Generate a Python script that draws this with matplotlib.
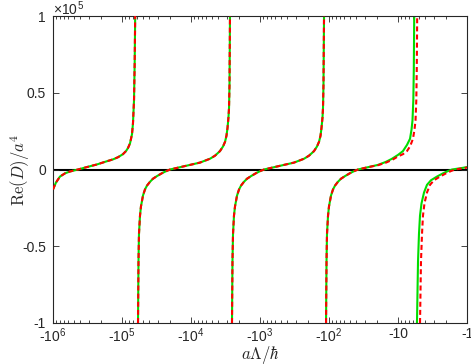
import numpy as np
import matplotlib.pyplot as plt
from matplotlib.ticker import LogLocator, NullFormatter

plt.rcParams['font.family'] = ['Liberation Sans', 'DejaVu Sans']
plt.rcParams['mathtext.fontset'] = 'cm'

# x: log10 of |a Lambda / hbar|  (axis shows the negative values)
# y: Re(D)/a^4 in units of 1e5
seg1_exp = [6.000, 5.957, 5.899, 5.826, 5.754, 5.638, 5.507, 5.362, 5.246, 5.130,
            5.058, 4.986, 4.942, 4.913, 4.884, 4.855, 4.841, 4.826, 4.816, 4.809]
seg1_val = [-0.13, -0.085, -0.046, -0.025, -0.013, 0.0, 0.016, 0.033, 0.05, 0.066,
            0.08, 0.10, 0.12, 0.14, 0.17, 0.23, 0.30, 0.45, 0.70, 1.0]

seg2_exp = [4.768, 4.761, 4.754, 4.739, 4.725, 4.696, 4.667, 4.638, 4.594, 4.551,
            4.493, 4.420, 4.362, 4.304, 4.159, 4.014, 3.870, 3.725, 3.652, 3.580,
            3.536, 3.507, 3.486, 3.471, 3.457, 3.449, 3.442, 3.435]
seg2_val = [-1.0, -0.6, -0.42, -0.30, -0.24, -0.17, -0.13, -0.105, -0.08, -0.06,
            -0.043, -0.024, -0.011, 0.0, 0.015, 0.03, 0.045, 0.07, 0.09, 0.12,
            0.15, 0.18, 0.22, 0.27, 0.34, 0.40, 0.55, 1.0]

seg3_exp = [3.406, 3.399, 3.391, 3.377, 3.362, 3.333, 3.304, 3.275, 3.232, 3.188,
            3.130, 3.058, 3.000, 2.942, 2.797, 2.652, 2.507, 2.362, 2.290, 2.217,
            2.174, 2.145, 2.123, 2.109, 2.094, 2.087, 2.080, 2.072]
seg3_val = [-1.0, -0.6, -0.42, -0.30, -0.24, -0.17, -0.13, -0.105, -0.08, -0.06,
            -0.043, -0.024, -0.011, 0.0, 0.015, 0.03, 0.045, 0.07, 0.09, 0.12,
            0.15, 0.18, 0.22, 0.27, 0.34, 0.40, 0.55, 1.0]

green4_exp = [2.043, 2.036, 2.029, 2.014, 2.000, 1.971, 1.942, 1.913, 1.870, 1.826,
              1.768, 1.696, 1.638, 1.580, 1.435, 1.290, 1.174, 1.087, 1.000, 0.928,
              0.870, 0.826, 0.804, 0.790, 0.778, 0.771, 0.765]
green4_val = [-1.0, -0.6, -0.42, -0.30, -0.24, -0.17, -0.13, -0.105, -0.08, -0.06,
              -0.043, -0.024, -0.011, 0.0, 0.015, 0.03, 0.05, 0.07, 0.095, 0.12,
              0.16, 0.20, 0.26, 0.32, 0.45, 0.65, 1.0]

red4_exp = [2.043, 2.036, 2.029, 2.014, 2.000, 1.971, 1.942, 1.913, 1.870, 1.826,
            1.768, 1.696, 1.638, 1.580, 1.435, 1.290, 1.174, 1.087, 1.000, 0.928,
            0.870, 0.826, 0.783, 0.761, 0.746, 0.735, 0.728, 0.722]
red4_val = [-1.0, -0.6, -0.42, -0.30, -0.24, -0.17, -0.13, -0.105, -0.08, -0.06,
            -0.043, -0.024, -0.011, 0.0, 0.015, 0.028, 0.045, 0.062, 0.085, 0.10,
            0.12, 0.15, 0.20, 0.26, 0.32, 0.45, 0.65, 1.0]

green5_exp = [0.725, 0.710, 0.696, 0.681, 0.659, 0.623, 0.580, 0.522, 0.435, 0.348,
              0.275, 0.217, 0.130, 0.058, 0.000]
green5_val = [-1.0, -0.6, -0.42, -0.30, -0.22, -0.15, -0.10, -0.07, -0.046, -0.025,
              -0.01, 0.0, 0.006, 0.011, 0.016]

red5_exp = [0.681, 0.667, 0.652, 0.638, 0.616, 0.580, 0.536, 0.478, 0.391, 0.304,
            0.232, 0.174, 0.101, 0.043, 0.000]
red5_val = [-1.0, -0.6, -0.42, -0.30, -0.22, -0.15, -0.10, -0.07, -0.046, -0.025,
            -0.01, 0.0, 0.005, 0.009, 0.013]

green_segs = [(seg1_exp, seg1_val), (seg2_exp, seg2_val), (seg3_exp, seg3_val),
              (green4_exp, green4_val), (green5_exp, green5_val)]
red_segs = [(seg1_exp, seg1_val), (seg2_exp, seg2_val), (seg3_exp, seg3_val),
            (red4_exp, red4_val), (red5_exp, red5_val)]

xtick_exp = [6, 5, 4, 3, 2, 1, 0]
xtick_labels = ['-10$^{\\mathregular{6}}$', '-10$^{\\mathregular{5}}$',
                '-10$^{\\mathregular{4}}$', '-10$^{\\mathregular{3}}$',
                '-10$^{\\mathregular{2}}$', '-10', '-1']
ytick_vals = [-1, -0.5, 0, 0.5, 1]
ytick_labels = ['-1', '-0.5', '0', '0.5', '1']

axcol = '#262626'

fig = plt.figure(figsize=(4.71, 3.64), dpi=100)
ax = fig.add_axes([53/471, 1 - 323/364, 414/471, 307/364])

ax.axhline(0, color='k', lw=1.5, zorder=1)
for e, v in green_segs:
    ax.plot(10**np.array(e), v, color='#00dd00', lw=1.5, zorder=2)
for e, v in red_segs:
    ax.plot(10**np.array(e), v, color='#ff0000', lw=1.5, dashes=(2.4, 1.5), zorder=3)

ax.set_xscale('log')
ax.set_xlim(1e6, 1)
ax.set_ylim(-1, 1)
ax.set_xticks([10.0**k for k in xtick_exp])
ax.set_xticklabels(xtick_labels)
ax.xaxis.set_minor_locator(LogLocator(base=10, subs=np.arange(2, 10), numticks=20))
ax.xaxis.set_minor_formatter(NullFormatter())
ax.set_yticks(ytick_vals)
ax.set_yticklabels(ytick_labels)

ax.tick_params(which='both', direction='in', top=True, right=True,
               colors=axcol, labelsize=10)
ax.tick_params(which='major', length=4, width=0.6)
ax.tick_params(which='minor', length=2, width=0.6)
ax.tick_params(axis='x', pad=3)
ax.tick_params(axis='y', pad=5)
for s in ax.spines.values():
    s.set_color(axcol)
    s.set_linewidth(0.8)

ax.text(0, 1 + 1.5/307, '\u00d710$^{\\mathregular{5}}$', transform=ax.transAxes,
        ha='left', va='baseline', fontsize=10, color=axcol)

ax.set_xlabel(r'$a\Lambda/\hbar$', fontsize=12, color=axcol)
ax.set_ylabel(r'$\mathrm{Re}(D)/a^4$', fontsize=12, color=axcol)
ax.xaxis.set_label_coords(0.5, -21/307)
ax.yaxis.set_label_coords(-21/414, 0.5)

fig.savefig('out.png', dpi=100)
